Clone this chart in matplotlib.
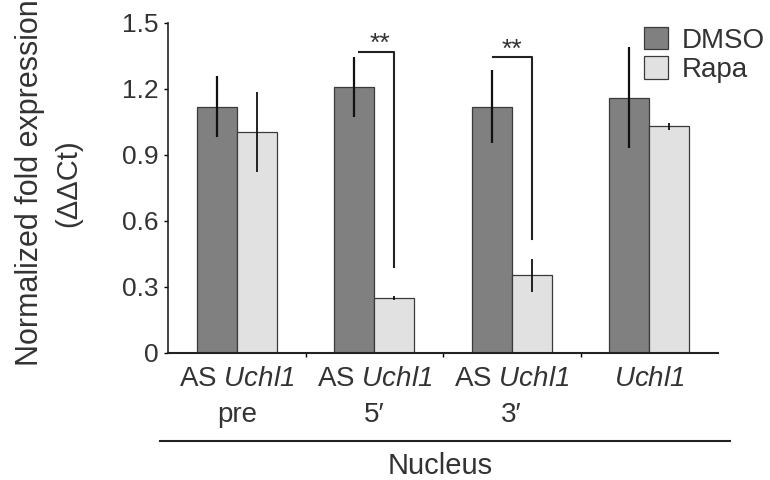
import matplotlib
matplotlib.use("Agg")
import matplotlib.pyplot as plt
from matplotlib.lines import Line2D
import numpy as np

plt.rcParams['font.family'] = ['Liberation Sans', 'DejaVu Sans']
plt.rcParams['mathtext.fontset'] = 'custom'
plt.rcParams['mathtext.rm'] = 'Liberation Sans'
# sf slot used for italic so that the digit in Uchl1 is slanted too
plt.rcParams['mathtext.sf'] = 'Liberation Sans:italic'

# data
genes = [r'AS $\mathsf{Uchl1}$', r'AS $\mathsf{Uchl1}$', r'AS $\mathsf{Uchl1}$', r'$\mathsf{Uchl1}$']
sub = ['pre', '5\u2032', '3\u2032', '']
dmso = np.array([1.12, 1.21, 1.12, 1.16])
dmso_err = np.array([0.14, 0.135, 0.165, 0.23])
rapa = np.array([1.005, 0.25, 0.354, 1.03])
rapa_err = np.array([0.18, 0.01, 0.075, 0.015])

txt = '#333333'
fig = plt.figure(figsize=(7.7, 4.8), dpi=100)
ax = fig.add_axes([168/770, 1 - 353/480, 550/770, 330/480])

x = np.arange(len(genes))
w = 0.29
ax.bar(x - w/2, dmso, w, color='#808080', edgecolor='#3a3a3a', linewidth=0.9, label='DMSO')
ax.bar(x + w/2, rapa, w, color='#e0e1e0', edgecolor='#3a3a3a', linewidth=0.9, label='Rapa')
ax.errorbar(x - w/2, dmso, yerr=dmso_err, fmt='none', ecolor='#111111', elinewidth=1.6, capsize=0)
ax.errorbar(x + w/2, rapa, yerr=rapa_err, fmt='none', ecolor='#111111', elinewidth=1.3, capsize=0)

# significance brackets
for x0, x1, ytop, ybot, xs in [(0.89, 1.146, 1.37, 0.39, 1.04), (1.86, 2.146, 1.345, 0.52, 2.0)]:
    ax.plot([x0, x1, x1], [ytop, ytop, ybot], color='#222222', lw=1.5, clip_on=False)
    ax.text(xs, ytop - 0.02, '**', ha='center', va='bottom', fontsize=19, color=txt)

ax.set_xlim(-0.5, 3.5)
ax.set_ylim(0, 1.5)
ax.set_yticks([0, 0.3, 0.6, 0.9, 1.2, 1.5])
ax.set_yticklabels(['0', '0.3', '0.6', '0.9', '1.2', '1.5'])
ax.tick_params(axis='y', labelsize=19, labelcolor=txt, length=3, width=1, pad=4)
ax.set_xticks([0.5, 1.5, 2.5])
ax.set_xticklabels([])
ax.tick_params(axis='x', length=3, width=1)
for s in ['top', 'right']:
    ax.spines[s].set_visible(False)
ax.spines['left'].set_linewidth(1.2)
ax.spines['bottom'].set_linewidth(1.5)
ax.spines['left'].set_color('#222222')
ax.spines['bottom'].set_color('#222222')

for i in range(len(genes)):
    ax.text(x[i], -0.0788, genes[i], transform=ax.get_xaxis_transform(), ha='center', va='center',
            fontsize=20, color=txt)
    if sub[i]:
        ax.text(x[i], -0.188, sub[i], transform=ax.get_xaxis_transform(), ha='center', va='center',
                fontsize=20, color=txt)

fig.text(30/770, 1 - 183/480, 'Normalized fold expression', rotation=90, ha='center', va='center',
         fontsize=22, color=txt)
fig.text(68/770, 1 - 183/480, '(\u0394\u0394Ct)', rotation=90, ha='center', va='center',
         fontsize=21, color=txt)

fig.add_artist(Line2D([160/770, 730/770], [1 - 441/480, 1 - 441/480], color='#222222', lw=1.5))
fig.text(440/770, 1 - 466/480, 'Nucleus', ha='center', va='center', fontsize=21, color=txt)

ax.legend(loc='upper left', bbox_to_anchor=(644/770, 1 - 27/480), bbox_transform=fig.transFigure,
          frameon=False, fontsize=20, handlelength=0.85, handleheight=0.85, handletextpad=0.5,
          labelspacing=0.1, borderpad=0, borderaxespad=0, labelcolor=txt)

fig.savefig('out.png', dpi=100)
